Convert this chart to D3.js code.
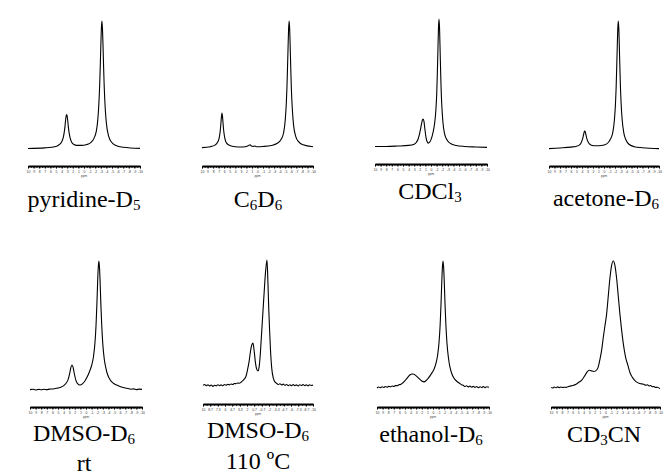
<!DOCTYPE html>
<html><head><meta charset="utf-8">
<script src="https://cdn.jsdelivr.net/npm/d3@7"></script>
<style>html,body{margin:0;padding:0;background:#fff;} svg{display:block;}</style>
</head><body>
<script>
// ---- data: [chemical shift (ppm), relative intensity (%)] ----
const specPyridine = [[10,0.4],[7,0.9],[5,2],[4.4,3.5],[4.0,5.5],[3.7,9],[3.5,14],[3.4,17.5],[3.3,22],[3.2,25.5],[3.1,27],[3.0,25.5],[2.9,22],[2.8,17.5],[2.7,14],[2.5,9],[2.2,5.2],[1.8,3.5],[1.3,2.8],[0.5,2.8],[-0.5,3.5],[-1.2,5],[-1.8,8.5],[-2.2,14],[-2.4,20],[-2.6,31],[-2.8,50],[-2.9,64],[-3.0,80],[-3.1,94],[-3.2,100],[-3.3,94],[-3.4,80],[-3.5,64],[-3.6,50],[-3.8,31],[-4.0,20],[-4.4,10],[-4.8,6],[-5.6,3],[-7,1.4],[-10,0.5]];
const specC6D6 = [[10,0.3],[8.5,1],[7.6,2.5],[7.2,4.5],[6.9,8],[6.7,14],[6.6,19],[6.5,24.5],[6.4,27.5],[6.3,24.5],[6.2,19],[6.1,14],[5.9,8],[5.6,4],[5.0,2],[4.0,1],[3.0,0.8],[2.0,1.2],[1.6,2],[1.35,2.6],[1.1,1.5],[0.8,1.2],[0.55,1.6],[0.2,1],[-1,1.2],[-2.5,2],[-3.5,3.5],[-4.3,7],[-4.7,12],[-5.0,22],[-5.2,36],[-5.3,47],[-5.4,62],[-5.5,78],[-5.6,93.5],[-5.7,100],[-5.8,93.5],[-5.9,78],[-6.0,62],[-6.1,47],[-6.3,29],[-6.5,18],[-6.9,9],[-7.4,5],[-8.2,2.5],[-10,1]];
const specCDCl3 = [[10,1.2],[8,1.2],[6,1.5],[4,2],[3,3],[2.6,4.5],[2.3,7],[2.1,10],[1.9,14],[1.7,18.5],[1.55,21.5],[1.4,22.5],[1.25,20.5],[1.1,15],[0.9,8.5],[0.7,5],[0.48,3.8],[0.25,4.5],[0,6.5],[-0.25,10],[-0.5,15],[-0.7,21],[-0.88,30],[-1.03,43],[-1.13,57.6],[-1.23,75],[-1.33,92.5],[-1.43,100],[-1.53,92.5],[-1.63,75],[-1.73,57.6],[-1.83,43],[-1.93,33],[-2.13,20],[-2.43,11],[-2.9,6],[-3.5,3.5],[-4.5,2],[-6,1.2],[-8,0.8],[-10,0.5]];
const specAcetone = [[10,0.3],[8,0.8],[6,1.5],[5,2.2],[4.5,3],[4.2,4.5],[4.0,6.5],[3.8,9.5],[3.7,11.5],[3.6,13.3],[3.5,14],[3.4,13.3],[3.3,11.5],[3.2,9.5],[3.0,6.5],[2.7,4.2],[2.3,3],[1.5,2.5],[0.5,2.7],[-0.5,4],[-1.2,8],[-1.6,13],[-1.9,23],[-2.1,36.6],[-2.2,47],[-2.3,62],[-2.4,78],[-2.5,93.5],[-2.6,100],[-2.7,93.5],[-2.8,78],[-2.9,62],[-3.0,47],[-3.1,36.6],[-3.3,23],[-3.6,12.6],[-4.0,7],[-4.6,3.5],[-5.5,1.8],[-7,1],[-10,0.3]];
const specDMSOrt = [[10,0.3],[9.5,0.6],[9,0],[8.5,0.5],[8,0.2],[7.5,0.6],[7,0.3],[6.5,0.7],[6,0.8],[5.5,1.2],[5,1.5],[4.5,2.2],[4.1,3],[3.6,5],[3.2,8],[2.9,13],[2.7,17.5],[2.5,19.4],[2.3,17.5],[2.1,13],[1.8,7.5],[1.5,5],[1.07,3.9],[0.6,5],[0.2,7],[-0.2,10],[-0.6,14],[-1.0,19],[-1.34,26],[-1.59,36],[-1.79,50],[-1.94,66],[-2.09,85],[-2.19,95],[-2.3,100],[-2.41,95],[-2.51,85],[-2.66,66],[-2.81,50],[-3.01,35],[-3.26,24],[-3.55,17],[-3.85,12],[-4.3,8],[-4.8,5.5],[-5.5,3.8],[-6.2,2.5],[-7,1.5],[-7.5,1.2],[-8,0.6],[-8.5,0.9],[-9,0.3],[-9.5,0.7],[-10,0.5]];
const specDMSOhot = [[10,0.5],[9.7,1.2],[9.4,0.2],[9.1,1],[8.8,0],[8.5,0.8],[8.2,-0.3],[7.9,0.6],[7.6,0.1],[7.3,1],[7.0,0.3],[6.7,0.9],[6.4,0.2],[6.1,1.2],[5.8,0.6],[5.5,1.4],[5.2,0.9],[4.9,1.6],[4.6,1.2],[4.3,2],[4.0,1.8],[3.7,2.4],[3.4,2.2],[3.1,3],[2.8,4],[2.5,5.5],[2.2,7.5],[1.9,13],[1.6,20],[1.35,28],[1.1,33],[0.91,34],[0.7,28],[0.45,18],[0.2,13],[0.0,12],[-0.2,15],[-0.4,24],[-0.6,38],[-0.8,52],[-1.0,66],[-1.2,80],[-1.4,92],[-1.64,100],[-1.8,83],[-1.95,62],[-2.1,45],[-2.3,26],[-2.5,14],[-2.8,6],[-3.1,3],[-3.4,2.2],[-3.7,1.2],[-4.0,1.8],[-4.3,0.8],[-4.6,1.5],[-4.9,0.5],[-5.2,1.2],[-5.5,0.3],[-5.8,1],[-6.1,0.2],[-6.4,1.1],[-6.7,0.3],[-7.0,0.9],[-7.3,0],[-7.6,1],[-7.9,0.4],[-8.2,1.2],[-8.5,0.3],[-8.8,0.9],[-9.1,0.2],[-9.4,1],[-9.7,0.4],[-10,0.8]];
const specEthanol = [[10,0],[9.7,0.8],[9.4,0.2],[9.1,1],[8.8,0.4],[8.5,1.2],[8.2,0.6],[7.9,1.3],[7.6,0.9],[7.3,1.6],[7.0,1.2],[6.7,1.9],[6.4,1.8],[6.1,2.5],[5.8,2.8],[5.5,3.6],[5.2,4.8],[4.9,6.3],[4.6,7.8],[4.3,9.5],[4.0,10.6],[3.75,11],[3.4,10.8],[3.0,9.5],[2.5,7.5],[2.0,5.5],[1.6,4.8],[1.2,6],[0.8,8],[0.4,10.5],[0.1,12.5],[-0.2,15],[-0.5,19],[-0.83,26],[-1.08,36],[-1.28,50],[-1.43,66],[-1.58,85],[-1.68,95],[-1.79,100],[-1.9,95],[-2.0,85],[-2.15,66],[-2.3,50],[-2.5,35],[-2.75,24],[-3.0,17],[-3.3,12],[-3.7,8],[-4.2,5.5],[-4.8,3.5],[-5.1,2.6],[-5.4,2.2],[-5.7,1.2],[-6.0,1.8],[-6.3,0.8],[-6.6,1.5],[-6.9,0.6],[-7.2,1.3],[-7.5,0.5],[-7.8,1.2],[-8.1,0.2],[-8.4,1],[-8.7,0.4],[-9.0,1.2],[-9.3,0.3],[-9.6,1],[-10,0.6]];
const specCD3CN = [[10,0.5],[9.7,0],[9.4,0.8],[9.1,0.2],[8.8,0.9],[8.5,0.3],[8.2,0.8],[7.9,0.4],[7.6,0.6],[7.2,0.5],[6.8,1.2],[6.5,1.5],[6.0,2],[5.4,3],[4.9,4.5],[4.4,6],[3.9,9],[3.4,12.5],[3.0,14],[2.6,13.5],[2.14,13],[1.8,13.5],[1.37,16],[1.0,23],[0.7,30],[0.4,40],[0.1,49],[-0.2,58],[-0.5,72],[-0.8,86],[-1.1,96],[-1.43,100],[-1.75,96],[-2.05,86],[-2.35,72],[-2.65,58],[-2.95,46],[-3.3,34],[-3.7,24],[-4.1,18],[-4.5,12],[-5.0,8],[-5.6,5],[-6.3,3.5],[-7.0,3],[-7.4,2.2],[-7.7,2.6],[-8.0,1.6],[-8.3,2],[-8.6,1],[-8.9,1.2],[-9.2,0.4],[-9.5,0.6],[-10,-0.5]];

const spectra = [specPyridine, specC6D6, specCDCl3, specAcetone, specDMSOrt, specDMSOhot, specEthanol, specCD3CN];
const solventLabels = ["pyridine-D_5","C_6D_6","CDCl_3","acetone-D_6","DMSO-D_6","DMSO-D_6","ethanol-D_6","CD_3CN"];
const conditionLabels = ["","","","","rt","110 ºC","",""];

const ppmTicks = [10,9,8,7,6,5,4,3,2,1,0,-1,-2,-3,-4,-5,-6,-7,-8,-9,-10];
const ppmTickLabels = ["10","9","8","7","6","5","4","3","2","1","0","-1","-2","-3","-4","-5","-6","-7","-8","-9","-10"];
const ppmTicksHot = [10,8.7,7.3,6,4.7,3.3,2,0.7,-0.7,-2,-3.3,-4.7,-6,-7.3,-8.7,-10];
const ppmTickLabelsHot = ["10","8.7","7.3","6","4.7","3.3","2","0.7","-0.7","-2","-3.3","-4.7","-6","-7.3","-8.7","-10"];
const axisTitle = "ppm";

// ---- layout ----
const W = 664, H = 476;
const layout = [
  {x0:28, x1:140, base:149, top:21, axis:166, lx:84,  ly:207},
  {x0:202,x1:313, base:148, top:21, axis:166, lx:258, ly:207},
  {x0:375,x1:487, base:148, top:19, axis:164, lx:430, ly:199},
  {x0:549,x1:659, base:149, top:21, axis:166, lx:606, ly:206},
  {x0:30, x1:142, base:390, top:261, axis:407, lx:84,  ly:441, ly2:471},
  {x0:203,x1:313, base:386, top:260, axis:404, lx:258, ly:438, ly2:469},
  {x0:377,x1:489, base:388, top:261, axis:407, lx:431, ly:442},
  {x0:551,x1:660, base:388, top:261, axis:407, lx:604, ly:442}
];

const svg = d3.select("body").append("svg").attr("width", W).attr("height", H)
  .style("font-family", "'Liberation Serif','Times New Roman',serif");
svg.append("rect").attr("width", W).attr("height", H).attr("fill", "#fff");

function addLabel(g, str, x, y) {
  const t = g.append("text").attr("x", x).attr("y", y).attr("text-anchor", "middle")
    .attr("font-size", 24).attr("fill", "#000");
  const parts = str.split(/_(\d)/);
  let shifted = false;
  parts.forEach((p, i) => {
    if (p === "") return;
    const ts = t.append("tspan").text(p);
    if (i % 2 === 1) {
      ts.attr("font-size", 15);
      if (!shifted) { ts.attr("dy", 3); shifted = true; }
    } else if (shifted) {
      ts.attr("dy", -3); shifted = false;
    }
  });
}

spectra.forEach((data, i) => {
  const L = layout[i];
  const g = svg.append("g");
  const x = d3.scaleLinear().domain([10, -10]).range([L.x0, L.x1]);
  const y = d3.scaleLinear().domain([0, 100]).range([L.base, L.top]);
  const pts = data.slice().sort((a, b) => b[0] - a[0]);
  const line = d3.line().x(d => x(d[0])).y(d => y(d[1])).curve(d3.curveMonotoneX);
  g.append("path").attr("d", line(pts)).attr("fill", "none")
    .attr("stroke", "#000").attr("stroke-width", 1.1).attr("stroke-linejoin", "round");

  const hot = i === 5;
  const tv = hot ? ppmTicksHot : ppmTicks;
  const tl = hot ? ppmTickLabelsHot : ppmTickLabels;

  // minor ticks
  const minor = d3.range(10, -10.001, hot ? -0.667 : -0.5);
  const gMinor = g.append("g").attr("transform", `translate(0,${L.axis})`)
    .call(d3.axisBottom(x).tickValues(minor).tickSize(1.8).tickSizeOuter(0).tickFormat(""));
  gMinor.select(".domain").remove();
  gMinor.selectAll(".tick line").attr("stroke", "#000").attr("stroke-width", 1);

  const gAxis = g.append("g").attr("transform", `translate(0,${L.axis})`)
    .call(d3.axisBottom(x).tickValues(tv).tickSize(2.6).tickSizeOuter(0).tickPadding(1.6)
      .tickFormat((d, k) => tl[k]));
  gAxis.select(".domain").attr("stroke", "#000").attr("stroke-width", 1.8);
  gAxis.selectAll(".tick line").attr("stroke", "#000").attr("stroke-width", 1);
  gAxis.selectAll(".tick text").attr("font-size", 3.4).attr("fill", "#333")
    .style("font-family", "'Liberation Sans',Arial,sans-serif");
  g.append("text").attr("x", (L.x0 + L.x1) / 2).attr("y", L.axis + 11)
    .attr("text-anchor", "middle").attr("font-size", 3.2).attr("fill", "#444")
    .style("font-family", "'Liberation Sans',Arial,sans-serif").text(axisTitle);

  addLabel(g, solventLabels[i], L.lx, L.ly);
  if (conditionLabels[i]) {
    g.append("text").attr("x", L.lx).attr("y", L.ly2).attr("text-anchor", "middle")
      .attr("font-size", 24).attr("fill", "#000").text(conditionLabels[i]);
  }
});
</script>
</body></html>
